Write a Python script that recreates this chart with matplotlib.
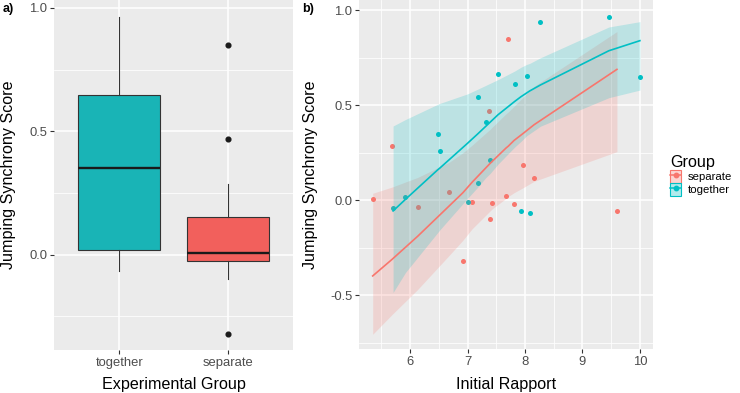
import numpy as np
import matplotlib.pyplot as plt
from matplotlib.patches import Patch
from matplotlib.lines import Line2D
from matplotlib.colors import to_rgb
from matplotlib.ticker import MultipleLocator, NullLocator

plt.rcParams['font.family'] = ['Liberation Sans', 'DejaVu Sans']

RED = '#F8766D'
TEAL = '#00BFC4'
BOX_RED = '#F2605C'
BOX_TEAL = '#19B4B6'
PANEL_BG = '#EBEBEB'
DARK = '#333333'
TICK_TXT = '#4D4D4D'

GROUPS = ['together', 'separate']

# separate group: initial rapport / jumping synchrony
sep_x = [5.35, 5.69, 6.13, 6.68, 6.92, 7.08, 7.38, 7.39, 7.43, 7.67,
         7.71, 7.81, 7.96, 8.16, 9.60]
sep_y = [0.005, 0.286, -0.035, 0.046, -0.322, -0.007, 0.469, -0.100, -0.012,
         0.021, 0.849, -0.019, 0.188, 0.118, -0.056]
# fitted smooth + band at each x
sep_fit = [-0.398, -0.31, -0.19, -0.03, 0.04, 0.095, 0.19, 0.193, 0.205,
           0.275, 0.285, 0.315, 0.35, 0.398, 0.689]
sep_lo = [-0.705, -0.60, -0.47, -0.29, -0.21, -0.15, -0.06, -0.057, -0.045,
          0.01, 0.02, 0.04, 0.065, 0.10, 0.256]
sep_hi = [0.037, 0.07, 0.12, 0.20, 0.25, 0.29, 0.37, 0.372, 0.385,
          0.455, 0.465, 0.495, 0.54, 0.60, 0.888]

# together group
tog_x = [5.705, 5.92, 6.48, 6.52, 7.00, 7.18, 7.18, 7.32, 7.39, 7.53,
         7.82, 7.93, 8.03, 8.08, 8.27, 9.46, 10.0]
tog_y = [-0.0385, 0.018, 0.350, 0.262, -0.0105, 0.541, 0.093, 0.413, 0.211,
         0.663, 0.612, -0.054, 0.654, -0.067, 0.938, 0.963, 0.647]
tog_fit = [-0.056, 0.005, 0.16, 0.17, 0.30, 0.35, 0.35, 0.39, 0.41, 0.45,
           0.52, 0.545, 0.565, 0.575, 0.607, 0.787, 0.840]
tog_lo = [-0.485, -0.38, -0.17, -0.155, 0.01, 0.07, 0.07, 0.12, 0.14, 0.19,
          0.28, 0.31, 0.34, 0.35, 0.39, 0.54, 0.58]
tog_hi = [0.391, 0.425, 0.505, 0.51, 0.56, 0.585, 0.585, 0.605, 0.615, 0.635,
          0.68, 0.70, 0.715, 0.72, 0.75, 0.912, 0.94]


def style_panel(ax):
    ax.set_facecolor(PANEL_BG)
    for s in ax.spines.values():
        s.set_visible(False)
    ax.set_axisbelow(True)
    ax.grid(which='major', color='white', lw=1.1)
    ax.grid(which='minor', color='white', lw=0.55)
    ax.tick_params(which='major', length=3, width=0.8, color=DARK,
                   labelcolor=TICK_TXT, labelsize=9.4, pad=2)
    ax.tick_params(which='minor', length=0)


def draw_boxplot(ax):
    data = [tog_y, sep_y]
    bp = ax.boxplot(data, positions=[1, 2], widths=0.75, whis=1.5,
                    patch_artist=True, showcaps=False,
                    medianprops=dict(color='#1A1A1A', lw=1.7),
                    boxprops=dict(edgecolor=DARK, lw=0.8),
                    whiskerprops=dict(color=DARK, lw=0.8),
                    flierprops=dict(marker='o', markerfacecolor='#1A1A1A',
                                    markeredgecolor='#1A1A1A', markersize=3.4))
    for patch, col in zip(bp['boxes'], [BOX_TEAL, BOX_RED]):
        patch.set_facecolor(col)

    style_panel(ax)
    ax.set_xlim(0.4, 2.6)
    ax.set_ylim(-0.386, 1.032)
    ax.set_xticks([1, 2])
    ax.set_xticklabels(GROUPS)
    ax.yaxis.set_major_locator(MultipleLocator(0.5))
    ax.yaxis.set_minor_locator(MultipleLocator(0.25))
    ax.xaxis.set_minor_locator(NullLocator())
    ax.yaxis.set_major_formatter(plt.FuncFormatter(lambda v, p: f"{v:.1f}"))
    ax.set_xlabel('Experimental Group', fontsize=11.6)
    ax.set_ylabel('Jumping Synchrony Score', fontsize=11.6)
    ax.xaxis.set_label_coords(0.5, -0.078)
    ax.yaxis.set_label_coords(-0.16, 0.5)


def draw_scatter(ax):
    ax.scatter(sep_x, sep_y, s=13, color=RED, zorder=2, linewidths=0)
    ax.scatter(tog_x, tog_y, s=13, color=TEAL, zorder=2, linewidths=0)

    ax.fill_between(sep_x, sep_lo, sep_hi, color=RED, alpha=0.2, lw=0, zorder=3)
    ax.fill_between(tog_x, tog_lo, tog_hi, color=TEAL, alpha=0.2, lw=0, zorder=3)
    ax.plot(sep_x, sep_fit, color=RED, lw=1.2, zorder=4)
    ax.plot(tog_x, tog_fit, color=TEAL, lw=1.2, zorder=4)

    style_panel(ax)
    ax.set_xlim(5.117, 10.233)
    ax.set_ylim(-0.784, 1.054)
    ax.xaxis.set_major_locator(MultipleLocator(1))
    ax.xaxis.set_minor_locator(MultipleLocator(0.5))
    ax.yaxis.set_major_locator(MultipleLocator(0.5))
    ax.yaxis.set_minor_locator(MultipleLocator(0.25))
    ax.yaxis.set_major_formatter(plt.FuncFormatter(lambda v, p: f"{v:.1f}"))
    ax.set_xlabel('Initial Rapport', fontsize=11.6)
    ax.set_ylabel('Jumping Synchrony Score', fontsize=11.6)
    ax.xaxis.set_label_coords(0.5, -0.078)
    ax.yaxis.set_label_coords(-0.14, 0.5)


def main():
    fig = plt.figure(figsize=(7.4, 3.93), dpi=100)
    ax_a = fig.add_axes([54 / 740, 43 / 393, 239 / 740, 350 / 393])
    ax_b = fig.add_axes([359.3 / 740, 43.7 / 393, 294 / 740, 349.3 / 393])

    draw_boxplot(ax_a)
    draw_scatter(ax_b)

    fig.text(0.004, 0.993, 'a)', fontsize=9, fontweight='bold', va='top')
    fig.text(0.409, 0.993, 'b)', fontsize=9, fontweight='bold', va='top')

    handles = [
        (Patch(facecolor=(*to_rgb(c), 0.3), edgecolor=c, lw=0.8),
         Line2D([], [], color=c, lw=1.1, marker='o', markersize=3.2))
        for c in [RED, TEAL]
    ]
    leg = fig.legend(handles, ['separate', 'together'], title='Group',
                     loc='upper left', bbox_to_anchor=(0.899, 0.618),
                     frameon=False, fontsize=8.2, title_fontsize=11.6,
                     handlelength=1.0, handleheight=1.3, handletextpad=0.55,
                     labelspacing=0.05, borderaxespad=0)
    leg._legend_box.align = 'left'

    fig.savefig('out.png', dpi=100)


if __name__ == "__main__":
    main()
